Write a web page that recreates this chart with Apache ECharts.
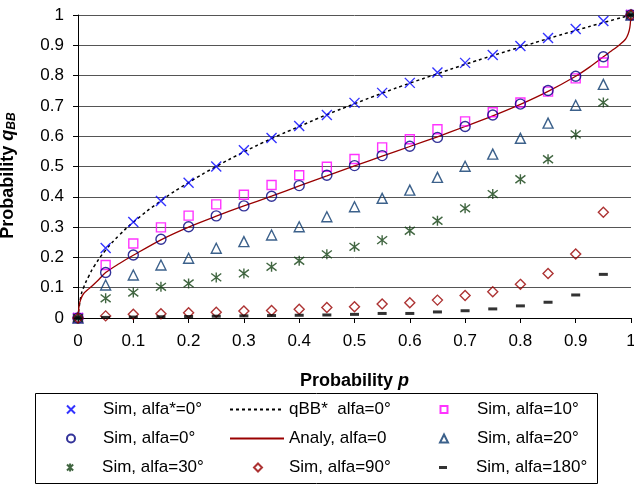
<!DOCTYPE html>
<html>
<head>
<meta charset="utf-8">
<script src="https://cdn.jsdelivr.net/npm/echarts@6/dist/echarts.min.js"></script>
<style>
  html, body { margin: 0; padding: 0; background: #fff; }
  #main { width: 634px; height: 485px; }
</style>
</head>
<body>
<div id="main"></div>
<script>
// probabilities p where the simulations were run
const pValues = [0, 0.05, 0.1, 0.15, 0.2, 0.25, 0.3, 0.35, 0.4, 0.45, 0.5,
  0.55, 0.6, 0.65, 0.7, 0.75, 0.8, 0.85, 0.9, 0.95, 1];

// simulated q_BB for each case
const simStar0 = [0, 0.231, 0.317, 0.386, 0.446, 0.500, 0.554, 0.594, 0.634, 0.670, 0.710,
  0.743, 0.776, 0.810, 0.842, 0.868, 0.898, 0.924, 0.954, 0.980, 1];
const sim0 = [0, 0.150, 0.208, 0.260, 0.301, 0.337, 0.370, 0.402, 0.437, 0.471, 0.503,
  0.536, 0.567, 0.596, 0.632, 0.670, 0.706, 0.751, 0.798, 0.862, 1];
const sim10 = [0, 0.175, 0.246, 0.299, 0.338, 0.375, 0.407, 0.439, 0.471, 0.499, 0.525,
  0.563, 0.590, 0.623, 0.649, 0.679, 0.711, 0.747, 0.791, 0.843, 1];
const sim20 = [0, 0.109, 0.142, 0.175, 0.197, 0.230, 0.252, 0.274, 0.301, 0.334, 0.367,
  0.395, 0.422, 0.464, 0.501, 0.541, 0.593, 0.643, 0.702, 0.771, 1];
const sim30 = [0, 0.065, 0.084, 0.103, 0.114, 0.134, 0.147, 0.169, 0.189, 0.210, 0.235,
  0.257, 0.288, 0.321, 0.362, 0.409, 0.458, 0.524, 0.606, 0.711, 1];
const sim90 = [0, 0.007, 0.012, 0.014, 0.017, 0.019, 0.023, 0.025, 0.029, 0.035, 0.037,
  0.046, 0.050, 0.059, 0.074, 0.087, 0.111, 0.147, 0.211, 0.349, 1];
const sim180 = [0, 0.002, 0.003, 0.004, 0.005, 0.006, 0.007, 0.008, 0.009, 0.010, 0.012,
  0.015, 0.015, 0.020, 0.024, 0.030, 0.040, 0.052, 0.076, 0.144, 1];

// qBB* curve (dotted)
const qbbP = [0, 0.005, 0.01, 0.02, 0.03, 0.05, 0.075, 0.1, 0.15, 0.2, 0.25, 0.3, 0.35,
  0.4, 0.45, 0.5, 0.55, 0.6, 0.65, 0.7, 0.75, 0.8, 0.85, 0.9, 0.95, 1];
const qbbQ = [0, 0.07, 0.1, 0.14, 0.173, 0.224, 0.274, 0.316, 0.387, 0.447, 0.5, 0.548, 0.592,
  0.632, 0.671, 0.707, 0.742, 0.775, 0.806, 0.837, 0.866, 0.894, 0.922, 0.949, 0.975, 1];

// analytical curve (solid)
const analyP = [0, 0.002, 0.005, 0.01, 0.02, 0.035, 0.05, 0.075, 0.1, 0.15, 0.2, 0.25, 0.3,
  0.35, 0.4, 0.45, 0.5, 0.55, 0.6, 0.65, 0.7, 0.75, 0.8, 0.85, 0.9, 0.925, 0.95, 0.965,
  0.98, 0.99, 0.995, 0.998, 1];
const analyQ = [0, 0.04, 0.062, 0.08, 0.097, 0.122, 0.15, 0.18, 0.207, 0.258, 0.300, 0.336,
  0.370, 0.402, 0.436, 0.469, 0.502, 0.534, 0.566, 0.598, 0.632, 0.667, 0.705, 0.748, 0.798,
  0.828, 0.862, 0.882, 0.903, 0.92, 0.938, 0.96, 1];

const xTicks = ["0", "0.1", "0.2", "0.3", "0.4", "0.5", "0.6", "0.7", "0.8", "0.9", "1"];

const FONT = "Liberation Sans";
const pair = (xs, ys) => xs.map((x, i) => [x, ys[i]]);

const crossPath = "path://M0,0L10,10M10,0L0,10";
const starPath = "path://M0,0L10,10M10,0L0,10M5,-1.5L5,11.5";

function simSeries(name, data, symbol, size, color, filled) {
  return {
    name: name,
    type: "scatter",
    data: pair(pValues, data),
    symbol: symbol,
    symbolSize: size,
    itemStyle: filled
      ? { color: color }
      : { color: "rgba(0,0,0,0)", borderColor: color, borderWidth: 1.4 },
    z: 3
  };
}

const chart = echarts.init(document.getElementById("main"));

// legend layout: [name, icon centre x, text left x, row top, icon w, icon h, is line]
const legendSlots = [
  ["Sim, alfa*=0°", 70, 102, 401, 8, 8, false],
  ["qBB*  alfa=0°", 256, 288, 401, 54, 8, true],
  ["Sim, alfa=10°", 443, 476, 401, 7, 7, false],
  ["Sim, alfa=0°", 70, 102, 430, 8, 8, false],
  ["Analy, alfa=0", 256, 288, 430, 54, 8, true],
  ["Sim, alfa=20°", 443, 476, 430, 8, 8, false],
  ["Sim, alfa=30°", 70, 102, 459, 8, 8, false],
  ["Sim, alfa=90°", 257, 288, 459, 8, 8, false],
  ["Sim, alfa=180°", 443, 476, 459, 8, 3, false]
];

const option = {
  animation: false,
  textStyle: { fontFamily: FONT },
  grid: { left: 78, right: 3, top: 15, bottom: 167, outerBoundsMode: "none", containLabel: false },
  legend: legendSlots.map(s => {
    const left = s[1] - s[4] / 2;
    const pad = Math.max(0, s[2] - (left + s[4] + 5));
    const lg = {
      data: [s[0]],
      left: left,
      top: s[3],
      itemWidth: s[4],
      itemHeight: s[5],
      padding: 0,
      selectedMode: false,
      textStyle: { fontFamily: FONT, fontSize: 17, color: "#000", padding: [0, 0, 0, pad] }
    };
    if (s[6]) lg.itemStyle = { opacity: 0 };
    return lg;
  }),
  graphic: [{
    type: "rect",
    shape: { x: 35.5, y: 393.5, width: 562, height: 90 },
    style: { fill: "none", stroke: "#000", lineWidth: 1 },
    silent: true
  }],
  xAxis: {
    type: "value",
    min: 0,
    max: 1,
    interval: 0.1,
    name: "{a|Probability }{b|p}",
    nameLocation: "middle",
    nameGap: 54,
    nameTextStyle: {
      rich: {
        a: { fontFamily: FONT, fontSize: 18, fontWeight: "bold", color: "#000" },
        b: { fontFamily: FONT, fontSize: 18, fontWeight: "bold", fontStyle: "italic", color: "#000" }
      }
    },
    axisLine: { show: true, lineStyle: { color: "#000", width: 1 } },
    axisTick: { show: true, length: 5, lineStyle: { color: "#000" } },
    axisLabel: {
      fontFamily: FONT, fontSize: 17, color: "#000", margin: 15,
      formatter: (v) => xTicks[Math.round(v * 10)]
    },
    splitLine: { show: false }
  },
  yAxis: {
    type: "value",
    min: 0,
    max: 1,
    interval: 0.1,
    name: "{a|Probability }{b|q}{c|BB}",
    nameLocation: "middle",
    nameGap: 60,
    nameTextStyle: {
      padding: [0, 18, 0, 0],
      rich: {
        a: { fontFamily: FONT, fontSize: 18, fontWeight: "bold", color: "#000" },
        b: { fontFamily: FONT, fontSize: 18, fontWeight: "bold", fontStyle: "italic", color: "#000" },
        c: { fontFamily: FONT, fontSize: 12, fontWeight: "bold", fontStyle: "italic", color: "#000",
             verticalAlign: "bottom", padding: [7, 0, 0, 0] }
      }
    },
    axisLine: { show: true, lineStyle: { color: "#000", width: 1 } },
    axisTick: { show: true, length: 5, lineStyle: { color: "#000" } },
    axisLabel: { fontFamily: FONT, fontSize: 17, color: "#000", margin: 14 },
    splitLine: { show: true, lineStyle: { color: "#555", width: 1 } }
  },
  series: [
    simSeries("Sim, alfa*=0°", simStar0, crossPath, 10, "#0000ff", false),
    {
      name: "qBB*  alfa=0°",
      type: "line",
      data: pair(qbbP, qbbQ),
      symbol: "none",
      smooth: true,
      lineStyle: { color: "#000", width: 1.5, type: [3, 3] },
      itemStyle: { color: "#000" },
      z: 2
    },
    simSeries("Sim, alfa=10°", sim10, "rect", 9, "#ff00ff", false),
    simSeries("Sim, alfa=0°", sim0, "circle", 10, "#000080", false),
    {
      name: "Analy, alfa=0",
      type: "line",
      data: pair(analyP, analyQ),
      symbol: "none",
      smooth: 0.3,
      lineStyle: { color: "#990000", width: 1.3 },
      itemStyle: { color: "#990000" },
      z: 2
    },
    simSeries("Sim, alfa=20°", sim20, "triangle", 10, "#0b3a6e", false),
    simSeries("Sim, alfa=30°", sim30, starPath, 10, "#124012", false),
    simSeries("Sim, alfa=90°", sim90, "diamond", 10, "#990000", false),
    simSeries("Sim, alfa=180°", sim180, "rect", [9, 3], "#000", true)
  ]
};

chart.setOption(option);
</script>
</body>
</html>
